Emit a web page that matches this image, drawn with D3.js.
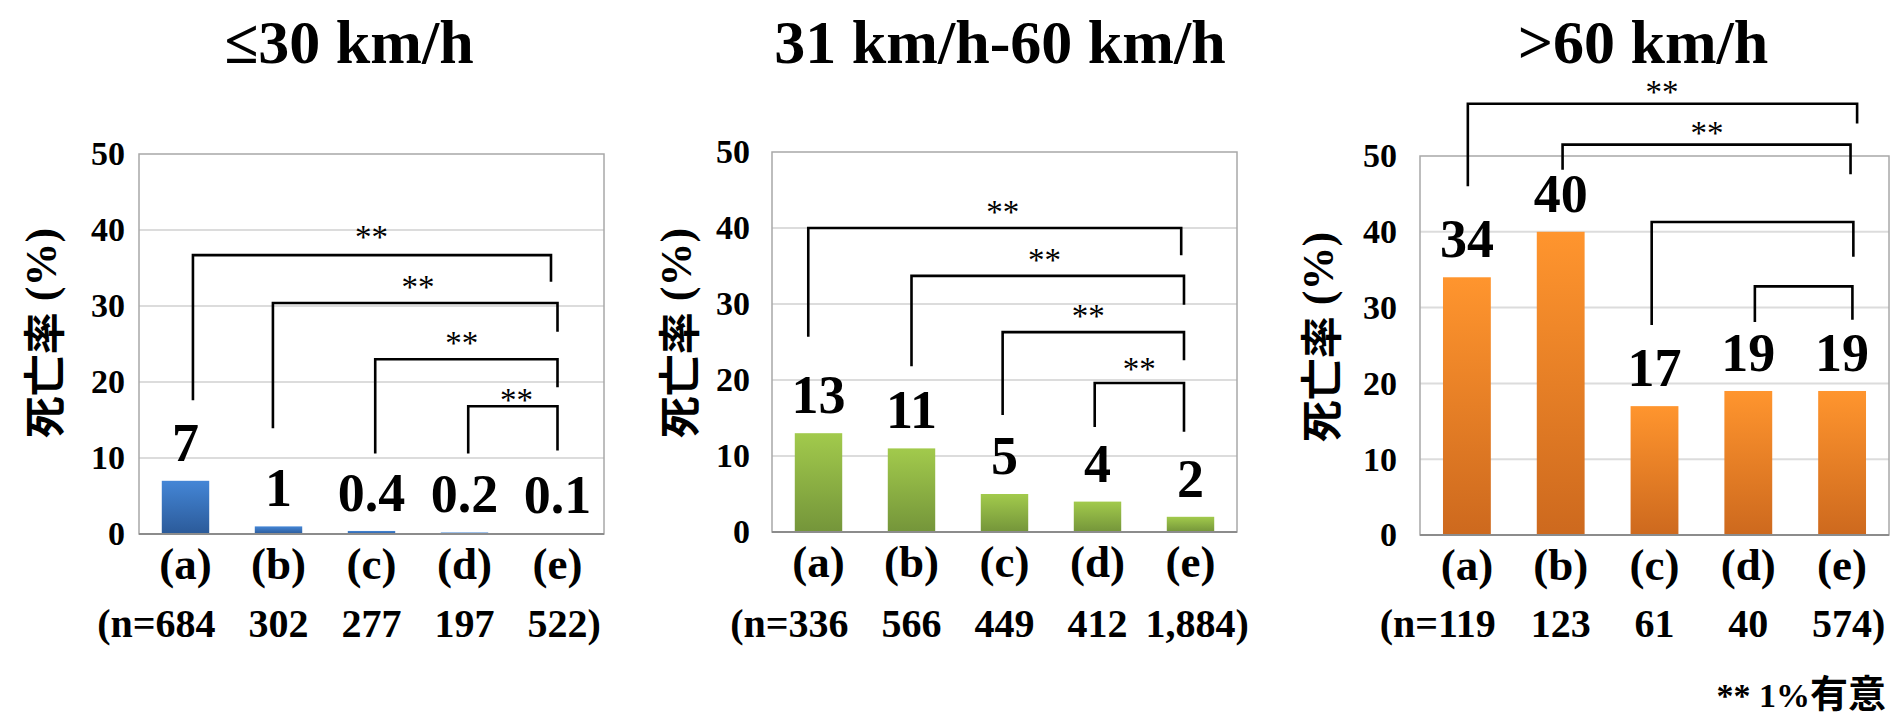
<!DOCTYPE html>
<html>
<head>
<meta charset="utf-8">
<script src="https://cdn.jsdelivr.net/npm/d3@7"></script>
<style>
  body { margin: 0; background: #fff; }
  svg { display: block; }
</style>
</head>
<body>
<svg id="chart" width="1899" height="720"></svg>
<script>
// ---- data ----
const categories = ["(a)", "(b)", "(c)", "(d)", "(e)"];
const titles = ["≤30 km/h", "31 km/h-60 km/h", ">60 km/h"];
const lowSpeedRates = [7, 1, 0.4, 0.2, 0.1];
const midSpeedRates = [13, 11, 5, 4, 2];
const highSpeedRates = [34, 40, 17, 19, 19];
const lowSpeedCounts = ["684", "302", "277", "197", "522"];
const midSpeedCounts = ["336", "566", "449", "412", "1,884"];
const highSpeedCounts = ["119", "123", "61", "40", "574"];
const yTicks = [0, 10, 20, 30, 40, 50];
const yLabelMain = "死亡率";
const yLabelUnit = " (%)";
const footnoteStars = "** 1%";
const footnoteText = "有意";

// significance brackets: from/to are category positions, y is the bar height (%),
// leftEnd/rightEnd are where the drops stop (%), star is the "**" position
const lowSpeedBrackets = [
  { from: 0.08, to: 3.93, y: 36.7, leftEnd: 17.6, rightEnd: 33.2, star: [2.0, 39.6] },
  { from: 0.94, to: 4.0, y: 30.4, leftEnd: 13.9, rightEnd: 26.6, star: [2.5, 33.0] },
  { from: 2.04, to: 4.0, y: 23.0, leftEnd: 10.6, rightEnd: 19.3, star: [2.97, 25.7] },
  { from: 3.04, to: 4.0, y: 16.8, leftEnd: 10.6, rightEnd: 11.0, star: [3.56, 18.2] }
];
const midSpeedBrackets = [
  { from: -0.11, to: 3.9, y: 40.0, leftEnd: 25.7, rightEnd: 36.4, star: [1.98, 42.6] },
  { from: 1.0, to: 3.93, y: 33.7, leftEnd: 21.8, rightEnd: 29.9, star: [2.43, 36.3] },
  { from: 1.98, to: 3.93, y: 26.3, leftEnd: 15.4, rightEnd: 22.6, star: [2.9, 28.9] },
  { from: 2.97, to: 3.93, y: 19.6, leftEnd: 13.8, rightEnd: 13.2, star: [3.45, 22.0] }
];
const highSpeedBrackets = [
  { from: 0.01, to: 4.16, y: 56.9, leftEnd: 46.0, rightEnd: 54.3, star: [2.08, 59.0] },
  { from: 1.02, to: 4.09, y: 51.5, leftEnd: 48.2, rightEnd: 47.6, star: [2.56, 53.5] },
  { from: 1.97, to: 4.12, y: 41.3, leftEnd: 27.7, rightEnd: 36.7, star: null },
  { from: 3.07, to: 4.11, y: 32.8, leftEnd: 28.1, rightEnd: 28.4, star: null }
];

// ---- layout of the three panels ----
const panels = [
  { title: titles[0], values: lowSpeedRates, counts: lowSpeedCounts, brackets: lowSpeedBrackets,
    colors: ["#4486d6", "#2b5a99"], left: 139, right: 604, top: 154, zero: 534,
    titleX: 349, yLabelX: 41, yLabelY: 333, tickGap: 14 },
  { title: titles[1], values: midSpeedRates, counts: midSpeedCounts, brackets: midSpeedBrackets,
    colors: ["#a2ca4c", "#74953a"], left: 772, right: 1237, top: 152, zero: 532,
    titleX: 1000, yLabelX: 676, yLabelY: 333, tickGap: 22 },
  { title: titles[2], values: highSpeedRates, counts: highSpeedCounts, brackets: highSpeedBrackets,
    colors: ["#ff952e", "#cd691e"], left: 1420, right: 1889, top: 156, zero: 535,
    titleX: 1643, yLabelX: 1318, yLabelY: 337, tickGap: 23 }
];

const serif = "'Liberation Serif', 'Times New Roman', serif";
const cjk = "'Noto Sans CJK JP', 'Noto Sans CJK SC', sans-serif";

const svg = d3.select("#chart");
const defs = svg.append("defs");

panels.forEach((p, pi) => {
  const g = svg.append("g");

  const x = d3.scaleBand()
    .domain(categories)
    .range([p.left, p.right])
    .paddingInner(0.49)
    .paddingOuter(0.245);
  const y = d3.scaleLinear().domain([0, 50]).range([p.zero, p.top]);
  const centre = i => x(categories[0]) + x.bandwidth() / 2 + i * x.step();

  // bar gradient
  const gradId = "barFill" + pi;
  const grad = defs.append("linearGradient").attr("id", gradId)
    .attr("x1", 0).attr("y1", 0).attr("x2", 0).attr("y2", 1);
  grad.append("stop").attr("offset", "0%").attr("stop-color", p.colors[0]);
  grad.append("stop").attr("offset", "100%").attr("stop-color", p.colors[1]);

  // gridlines
  g.append("g").selectAll("line")
    .data(yTicks.filter(t => t > 0 && t < 50))
    .join("line")
    .attr("x1", p.left).attr("x2", p.right)
    .attr("y1", d => y(d)).attr("y2", d => y(d))
    .attr("stroke", "#dcdcdc").attr("stroke-width", 2);

  // plot frame
  g.append("rect")
    .attr("x", p.left).attr("y", y(50))
    .attr("width", p.right - p.left).attr("height", y(0) - y(50))
    .attr("fill", "none").attr("stroke", "#a8a8a8").attr("stroke-width", 1.5);

  // y axis tick labels
  const yAxis = d3.axisLeft(y).tickValues(yTicks).tickSize(0).tickPadding(p.tickGap);
  const ya = g.append("g").attr("transform", `translate(${p.left},0)`).call(yAxis);
  ya.select(".domain").remove();
  ya.selectAll("text")
    .attr("font-family", serif).attr("font-weight", "bold")
    .attr("font-size", 34).attr("fill", "#000");

  // bars
  g.append("g").selectAll("rect")
    .data(p.values)
    .join("rect")
    .attr("x", (d, i) => x(categories[i]))
    .attr("width", x.bandwidth())
    .attr("y", d => y(d))
    .attr("height", d => y(0) - y(d))
    .attr("fill", `url(#${gradId})`);

  // axis base line
  g.append("line")
    .attr("x1", p.left).attr("x2", p.right)
    .attr("y1", y(0)).attr("y2", y(0))
    .attr("stroke", "#8c8c8c").attr("stroke-width", 2);

  // value labels
  g.append("g").selectAll("text")
    .data(p.values)
    .join("text")
    .attr("x", (d, i) => centre(i))
    .attr("y", d => y(d) - 20)
    .attr("text-anchor", "middle")
    .attr("font-family", serif).attr("font-weight", "bold").attr("font-size", 54)
    .text(d => String(d));

  // category labels
  g.append("g").selectAll("text")
    .data(categories)
    .join("text")
    .attr("x", (d, i) => centre(i))
    .attr("y", p.zero + 45)
    .attr("text-anchor", "middle")
    .attr("font-family", serif).attr("font-weight", "bold").attr("font-size", 45)
    .text(d => d);

  // sample sizes
  const nRow = g.append("g")
    .attr("font-family", serif).attr("font-weight", "bold").attr("font-size", 40);
  const nText = nRow.selectAll("text.count")
    .data(p.counts)
    .join("text")
    .attr("class", "count")
    .attr("x", (d, i) => centre(i))
    .attr("y", 637)
    .attr("text-anchor", "middle")
    .text(d => d);
  const firstW = nText.nodes()[0].getComputedTextLength();
  const lastW = nText.nodes()[p.counts.length - 1].getComputedTextLength();
  nRow.append("text")
    .attr("x", centre(0) - firstW / 2).attr("y", 637)
    .attr("text-anchor", "end").text("(n=");
  nRow.append("text")
    .attr("x", centre(p.counts.length - 1) + lastW / 2).attr("y", 637)
    .attr("text-anchor", "start").text(")");

  // significance brackets
  const br = g.append("g");
  br.selectAll("path")
    .data(p.brackets)
    .join("path")
    .attr("d", b => {
      const path = d3.path();
      path.moveTo(centre(b.from), y(b.leftEnd));
      path.lineTo(centre(b.from), y(b.y));
      path.lineTo(centre(b.to), y(b.y));
      path.lineTo(centre(b.to), y(b.rightEnd));
      return path.toString();
    })
    .attr("fill", "none").attr("stroke", "#000").attr("stroke-width", 2.6);
  br.selectAll("text")
    .data(p.brackets.filter(b => b.star))
    .join("text")
    .attr("x", b => centre(b.star[0]))
    .attr("y", b => y(b.star[1]) + 15)
    .attr("text-anchor", "middle")
    .attr("font-family", serif).attr("font-size", 33)
    .text("**");

  // title
  g.append("text")
    .attr("x", p.titleX).attr("y", 63)
    .attr("text-anchor", "middle")
    .attr("font-family", serif).attr("font-weight", "bold").attr("font-size", 62)
    .text(p.title);

  // y axis title
  const yl = g.append("text")
    .attr("transform", `translate(${p.yLabelX},${p.yLabelY}) rotate(-90)`)
    .attr("text-anchor", "middle")
    .attr("dominant-baseline", "central")
    .attr("font-weight", "bold");
  yl.append("tspan").attr("font-family", cjk).attr("font-size", 42).text(yLabelMain);
  yl.append("tspan").attr("font-family", serif).attr("font-size", 44).text(yLabelUnit);
});

// footnote
const fn = svg.append("text")
  .attr("x", 1886).attr("y", 707)
  .attr("text-anchor", "end")
  .attr("font-weight", "bold");
fn.append("tspan").attr("font-family", serif).attr("font-size", 34).text(footnoteStars);
fn.append("tspan").attr("font-family", cjk).attr("font-size", 38).text(footnoteText);
</script>
</body>
</html>
